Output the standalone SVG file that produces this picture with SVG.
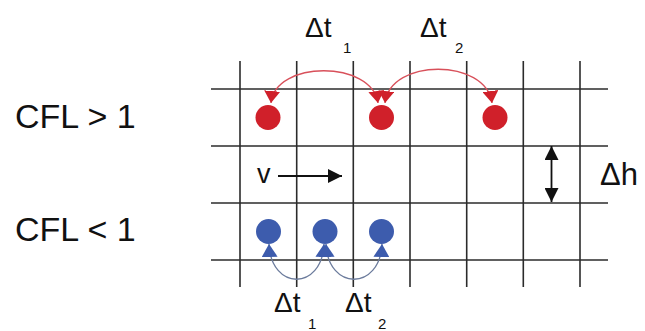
<svg xmlns="http://www.w3.org/2000/svg" width="645" height="331" viewBox="0 0 645 331">
<style>
.bg{fill:#ffffff}
.grid line{stroke:#2b2b2b;stroke-width:1.6}
.txt{font-family:"Liberation Sans",Arial,sans-serif;fill:#111}
.red{fill:#d0202a}
.blue{fill:#3d5cad}
.arc-r{fill:none;stroke:#d8505a;stroke-width:1.3}
.arc-b{fill:none;stroke:#6b7b9c;stroke-width:1.3}
.arr{stroke:#111;stroke-width:1.8;fill:none}
</style>
<defs>
<marker id="mr" viewBox="0 0 12 16" refX="12" refY="8" markerWidth="12" markerHeight="16" markerUnits="userSpaceOnUse" orient="auto-start-reverse">
<path d="M0,0 L12,8 L0,16 Z" fill="#d0202a"/>
</marker>
<marker id="mb" viewBox="0 0 13 16" refX="13" refY="8" markerWidth="13" markerHeight="16" markerUnits="userSpaceOnUse" orient="auto-start-reverse">
<path d="M0,0 L13,8 L0,16 Z" fill="#3d5cad"/>
</marker>
<marker id="mk" viewBox="0 0 14 14" refX="14" refY="7" markerWidth="14" markerHeight="14" markerUnits="userSpaceOnUse" orient="auto-start-reverse">
<path d="M0,0 L14,7 L0,14 Z" fill="#111"/>
</marker>
</defs>
<rect class="bg" x="0" y="0" width="645" height="331"/>
<g id="grid" class="grid">
<line x1="240" y1="61" x2="240" y2="287"/>
<line x1="296.7" y1="61" x2="296.7" y2="287"/>
<line x1="353.3" y1="61" x2="353.3" y2="287"/>
<line x1="410" y1="61" x2="410" y2="287"/>
<line x1="466.7" y1="61" x2="466.7" y2="287"/>
<line x1="523.3" y1="61" x2="523.3" y2="287"/>
<line x1="580" y1="61" x2="580" y2="287"/>
<line x1="211" y1="89" x2="608" y2="89"/>
<line x1="211" y1="146" x2="608" y2="146"/>
<line x1="211" y1="203" x2="608" y2="203"/>
<line x1="211" y1="260" x2="608" y2="260"/>
</g>
<g id="label-cfl-gt" class="txt"><text x="15" y="128" font-size="34">CFL &gt; 1</text></g>
<g id="label-cfl-lt" class="txt"><text x="15" y="241" font-size="34">CFL &lt; 1</text></g>
<g id="red-dot-1"><circle class="red" cx="268" cy="117.5" r="12.5"/></g>
<g id="red-dot-2"><circle class="red" cx="381.5" cy="117.5" r="12.5"/></g>
<g id="red-dot-3"><circle class="red" cx="495" cy="117.5" r="12.5"/></g>
<g id="blue-dot-1"><circle class="blue" cx="268.5" cy="231.5" r="12.5"/></g>
<g id="blue-dot-2"><circle class="blue" cx="325" cy="231.5" r="12.5"/></g>
<g id="blue-dot-3"><circle class="blue" cx="381.5" cy="231.5" r="12.5"/></g>
<g id="connectors">
<path class="arc-r" d="M271,103 C275,60 372,60 378,103" marker-start="url(#mr)" marker-end="url(#mr)"/>
<path class="arc-r" d="M385,103 C390,58 486,58 492,103" marker-start="url(#mr)" marker-end="url(#mr)"/>
<path class="arc-b" d="M269,244 C271,291 322,291 324,244" marker-start="url(#mb)" marker-end="url(#mb)"/>
<path class="arc-b" d="M326,244 C328,291 380,291 382,244" marker-start="url(#mb)" marker-end="url(#mb)"/>
<line class="arr" x1="278" y1="176" x2="342" y2="176" marker-end="url(#mk)"/>
<line class="arr" x1="551.5" y1="146" x2="551.5" y2="202" marker-start="url(#mk)" marker-end="url(#mk)"/>
</g>
<g id="label-dt1-top" class="txt"><text x="305" y="37" font-size="28">Δt</text><text x="343" y="53" font-size="15">1</text></g>
<g id="label-dt2-top" class="txt"><text x="420" y="37" font-size="28">Δt</text><text x="455" y="53" font-size="15">2</text></g>
<g id="label-dt1-bot" class="txt"><text x="274" y="312" font-size="28">Δt</text><text x="308" y="329" font-size="15">1</text></g>
<g id="label-dt2-bot" class="txt"><text x="345" y="312" font-size="28">Δt</text><text x="378" y="329" font-size="15">2</text></g>
<g id="label-v" class="txt"><text x="257" y="183" font-size="27">v</text></g>
<g id="label-dh" class="txt"><text x="600" y="185" font-size="31">Δh</text></g>
</svg>
